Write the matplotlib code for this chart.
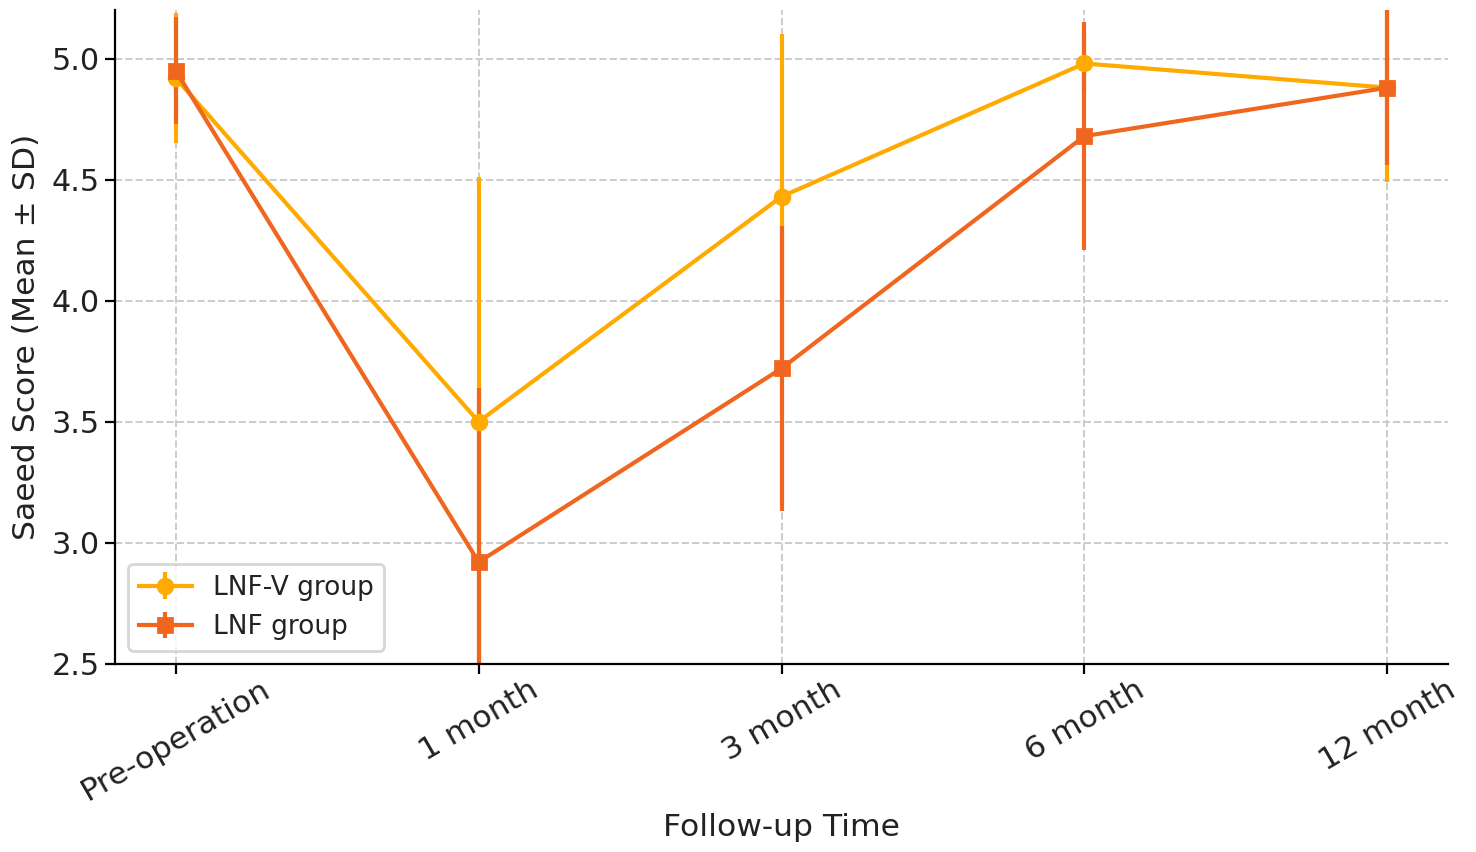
import matplotlib
matplotlib.use("Agg")
import matplotlib.pyplot as plt
import numpy as np

time_points = ["Pre-operation", "1 month", "3 month", "6 month", "12 month"]
lnfv_mean = [4.92, 3.50, 4.43, 4.98, 4.88]
lnfv_sd = [0.27, 1.01, 0.67, 0.12, 0.39]
lnf_mean = [4.95, 2.92, 3.72, 4.68, 4.88]
lnf_sd = [0.22, 0.72, 0.59, 0.47, 0.32]

c_lnfv = "#FFAA00"
c_lnf = "#F0661F"
txt = "#222222"

fig = plt.figure(figsize=(7.38, 4.26), dpi=200)
ax = fig.add_axes([0.078, 0.221, 0.903, 0.767])
x = np.arange(len(time_points))
ax.errorbar(x, lnfv_mean, yerr=lnfv_sd, color=c_lnfv, marker="o", ms=5.3,
            lw=1.5, elinewidth=1.5, capsize=0, label="LNF-V group")
ax.errorbar(x, lnf_mean, yerr=lnf_sd, color=c_lnf, marker="s", ms=5.3,
            lw=1.5, elinewidth=1.5, capsize=0, label="LNF group")
ax.set_xticks(x)
ax.set_xticklabels(time_points, rotation=30, fontsize=11.3, color=txt)
ax.set_xlim(-0.2, 4.2)
ax.set_ylim(2.5, 5.2)
ax.set_yticks([2.5, 3.0, 3.5, 4.0, 4.5, 5.0])
ax.tick_params(axis="y", labelsize=10.9, labelcolor=txt, pad=2)
ax.tick_params(axis="x", pad=0.5)
ax.set_xlabel("Follow-up Time", fontsize=11.3, color=txt, labelpad=2.5)
ax.set_ylabel("Saeed Score (Mean \u00b1 SD)", fontsize=11.3, color=txt)
ax.grid(True, linestyle="--", color="#cccccc", linewidth=0.7)
ax.spines["top"].set_visible(False)
ax.spines["right"].set_visible(False)
leg = ax.legend(loc="lower left", fontsize=9.5)
for t in leg.get_texts():
    t.set_color(txt)
fig.savefig("out.png", dpi=200)
